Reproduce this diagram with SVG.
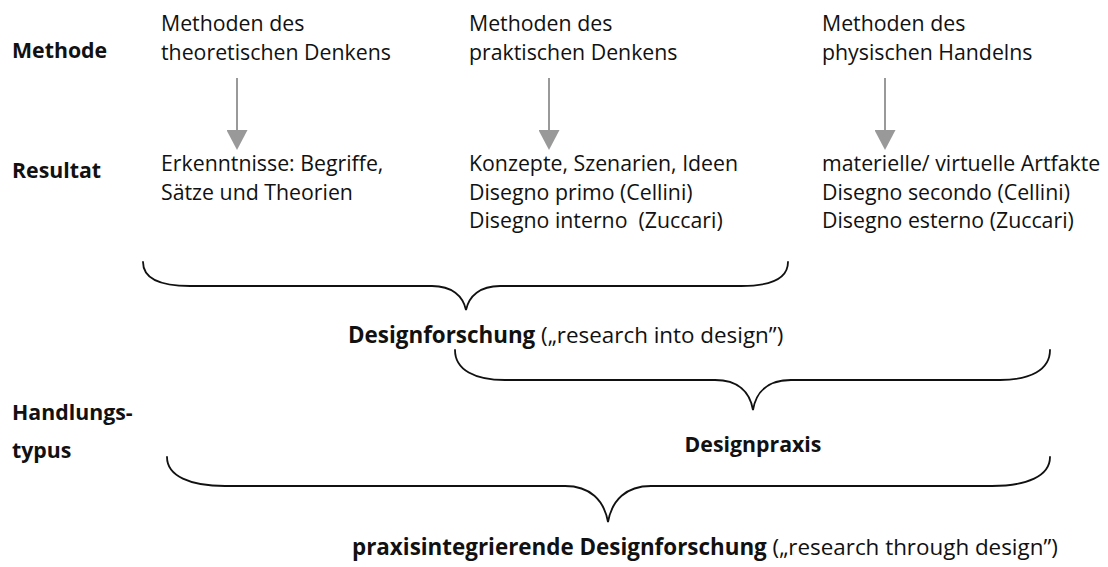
<svg xmlns="http://www.w3.org/2000/svg" width="1108" height="567" viewBox="0 0 1108 567">
  <defs>
    <style>
      text { font-family: "Open Sans", "Noto Sans", sans-serif; font-size: 21.3px; fill: #111; }
      .b { font-weight: bold; }
      .pre { white-space: pre; }
      .big { font-size: 22.4px; }
      .arrow { stroke: #999; stroke-width: 2; fill: none; }
      .head { fill: #999; }
      .brace { stroke: #111; stroke-width: 1.8; fill: none; stroke-linecap: round; }
    </style>
    <!-- grey triangular arrowhead, drawn along +x so orient="auto" points it down the line -->
    <marker id="ah" viewBox="0 0 20 21" refX="0" refY="10.5" markerWidth="20" markerHeight="21" markerUnits="userSpaceOnUse" orient="auto">
      <path class="head" d="M0,0 L20,10.5 L0,21 Z"/>
    </marker>
  </defs>
  <rect width="1108" height="567" fill="#fff"/>

  <!-- row labels -->
  <g id="label-methode"><text class="b" x="12" y="58">Methode</text></g>
  <g id="label-resultat"><text class="b" x="12" y="178">Resultat</text></g>
  <g id="label-handlungstypus">
    <text class="b" x="12" y="420">Handlungs-</text>
    <text class="b" x="12" y="458">typus</text>
  </g>

  <!-- method column headers -->
  <g id="method-theoretical">
    <text x="161" y="31">Methoden des</text>
    <text x="161" y="60">theoretischen Denkens</text>
  </g>
  <g id="method-practical">
    <text x="469" y="31">Methoden des</text>
    <text x="469" y="60">praktischen Denkens</text>
  </g>
  <g id="method-physical">
    <text x="822" y="31">Methoden des</text>
    <text x="822" y="60">physischen Handelns</text>
  </g>

  <!-- results -->
  <g id="result-theoretical">
    <text x="161" y="171">Erkenntnisse: Begriffe,</text>
    <text x="161" y="200">Sätze und Theorien</text>
  </g>
  <g id="result-practical">
    <text x="469" y="171">Konzepte, Szenarien, Ideen</text>
    <text x="469" y="200">Disegno primo (Cellini)</text>
    <text class="pre" x="469" y="228">Disegno interno  (Zuccari)</text>
  </g>
  <g id="result-physical">
    <text x="822" y="171">materielle/ virtuelle Artfakte</text>
    <text x="822" y="200">Disegno secondo (Cellini)</text>
    <text x="822" y="228">Disegno esterno (Zuccari)</text>
  </g>

  <!-- outcome labels -->
  <g id="designforschung">
    <text class="big" x="348" y="343"><tspan class="b">Designforschung</tspan> („research into design”)</text>
  </g>
  <g id="designpraxis">
    <text class="b" x="753" y="452" text-anchor="middle">Designpraxis</text>
  </g>
  <g id="praxisintegrierend">
    <text class="big" x="352" y="555"><tspan class="b">praxisintegrierende Designforschung</tspan> („research through design”)</text>
  </g>

  <!-- connectors: method-to-result arrows and grouping braces -->
  <g id="connectors">
    <line class="arrow" x1="237" y1="78" x2="237" y2="130" marker-end="url(#ah)"/>
    <line class="arrow" x1="549" y1="78" x2="549" y2="130" marker-end="url(#ah)"/>
    <line class="arrow" x1="885" y1="78" x2="885" y2="130" marker-end="url(#ah)"/>

    <path class="brace" d="M143,262 C143,278 160,286 190,286 L432,286 C452,286 463,296 466,310 C469,296 480,286 500,286 L741,286 C771,286 788,278 788,262"/>
    <path class="brace" d="M455,350 C455,370 475,380 505,380 L715,380 C738,380 750,392 753,410 C756,392 768,380 791,380 L1000,380 C1030,380 1050,370 1050,350"/>
    <path class="brace" d="M167,457 C167,476 190,486 225,486 L565,486 C590,486 604,500 608,522 C612,500 626,486 651,486 L992,486 C1027,486 1050,476 1050,457"/>
  </g>
</svg>
